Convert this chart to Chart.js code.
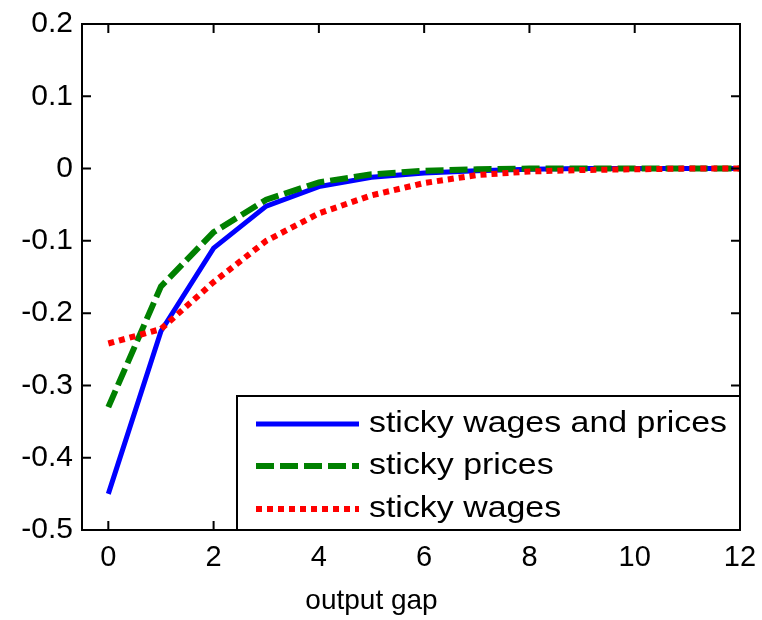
<!DOCTYPE html>
<html>
<head>
<meta charset="utf-8">
<script src="https://cdn.jsdelivr.net/npm/chart.js@4/dist/chart.umd.min.js"></script>
<style>
  html, body { margin: 0; padding: 0; background: #fff; }
  #wrap { width: 762px; height: 620px; }
</style>
</head>
<body>
<div id="wrap"><canvas id="gapChart"></canvas></div>
<script>
// Datos
const periods = [0, 1, 2, 3, 4, 5, 6, 7, 8, 9, 10, 11, 12];
const stickyBoth = [-0.450, -0.225, -0.110, -0.052, -0.025, -0.012, -0.006, -0.003, -0.001, 0, 0, 0, 0];
const stickyPrices = [-0.330, -0.163, -0.088, -0.043, -0.019, -0.008, -0.003, -0.001, 0, 0, 0, 0, 0];
const stickyWages = [-0.242, -0.222, -0.157, -0.100, -0.062, -0.037, -0.020, -0.009, -0.004, -0.002, -0.001, 0, 0];
const xTicks = [0, 2, 4, 6, 8, 10, 12];
const yTicks = [-0.5, -0.4, -0.3, -0.2, -0.1, 0, 0.1, 0.2];
const seriesNames = ['sticky wages and prices', 'sticky prices', 'sticky wages'];
const xTitle = 'output gap';

const FONT = '"Liberation Sans", Arial, sans-serif';

function pts(values) {
  return periods.map((p, i) => ({ x: p, y: values[i] }));
}

// Marco, marcas hacia adentro, leyenda y título del eje x
const matlabBox = {
  id: 'matlabBox',
  afterDraw(chart) {
    const ctx = chart.ctx;
    const a = chart.chartArea;
    const xs = chart.scales.x;
    const ys = chart.scales.y;
    const tick = 9;
    ctx.save();
    ctx.strokeStyle = '#000';
    ctx.lineWidth = 2;
    ctx.beginPath();
    xTicks.forEach(v => {
      const px = xs.getPixelForValue(v);
      ctx.moveTo(px, a.bottom); ctx.lineTo(px, a.bottom - tick);
      ctx.moveTo(px, a.top); ctx.lineTo(px, a.top + tick);
    });
    yTicks.forEach(v => {
      const py = ys.getPixelForValue(v);
      ctx.moveTo(a.left, py); ctx.lineTo(a.left + tick, py);
      ctx.moveTo(a.right, py); ctx.lineTo(a.right - tick, py);
    });
    ctx.stroke();
    ctx.strokeRect(a.left, a.top, a.right - a.left, a.bottom - a.top);

    // leyenda
    const w = 503, h = 134;
    const bx = a.right - w, by = a.bottom - h;
    ctx.fillStyle = '#fff';
    ctx.fillRect(bx, by, w, h);
    ctx.strokeRect(bx, by, w, h);
    const rows = [28, 70, 113];
    chart.data.datasets.forEach((ds, i) => {
      const yy = by + rows[i];
      ctx.save();
      ctx.strokeStyle = ds.borderColor;
      ctx.lineWidth = ds.borderWidth;
      ctx.setLineDash(ds.borderDash || []);
      ctx.beginPath();
      ctx.moveTo(bx + 19, yy);
      ctx.lineTo(bx + 122, yy);
      ctx.stroke();
      ctx.restore();
      // el texto de la figura es algo más ancho
      ctx.save();
      ctx.translate(bx + 132, yy);
      ctx.scale(1.13, 1);
      ctx.fillStyle = '#000';
      ctx.font = '30px ' + FONT;
      ctx.textBaseline = 'middle';
      ctx.textAlign = 'left';
      ctx.fillText(seriesNames[i], 0, 0);
      ctx.restore();
    });

    // título del eje x
    ctx.fillStyle = '#000';
    ctx.font = '28px ' + FONT;
    ctx.textAlign = 'center';
    ctx.textBaseline = 'middle';
    ctx.fillText(xTitle, xs.getPixelForValue(5), 601);
    ctx.restore();
  }
};

const config = {
  type: 'line',
  data: {
    datasets: [
      {
        label: seriesNames[0],
        data: pts(stickyBoth),
        borderColor: '#0000ff',
        borderWidth: 5,
        pointRadius: 0,
        fill: false,
        order: 2,
      },
      {
        label: seriesNames[1],
        data: pts(stickyPrices),
        borderColor: '#008000',
        borderWidth: 6,
        borderDash: [18, 6],
        pointRadius: 0,
        fill: false,
        order: 1,
      },
      {
        label: seriesNames[2],
        data: pts(stickyWages),
        borderColor: '#ff0000',
        borderWidth: 6,
        borderDash: [6, 5],
        pointRadius: 0,
        fill: false,
        order: 0,
      }
    ]
  },
  options: {
    responsive: true,
    maintainAspectRatio: false,
    animation: false,
    layout: { padding: { top: 24, right: 22, left: 0, bottom: 0 } },
    plugins: {
      legend: { display: false },
      tooltip: { enabled: false },
    },
    scales: {
      x: {
        type: 'linear',
        min: -0.5,
        max: 12,
        grid: { display: false, drawTicks: false },
        border: { display: false },
        afterBuildTicks: s => { s.ticks = xTicks.map(v => ({ value: v })); },
        afterFit: s => { s.height = 90; s.paddingLeft = 0; s.paddingRight = 0; },
        ticks: {
          color: '#000',
          font: { family: FONT, size: 29 },
          padding: 11,
          maxRotation: 0,
          autoSkip: false,
        }
      },
      y: {
        min: -0.5,
        max: 0.2,
        grid: { display: false, drawTicks: false },
        border: { display: false },
        afterBuildTicks: s => { s.ticks = yTicks.map(v => ({ value: v })); },
        afterFit: s => { s.width = 82; s.paddingTop = 0; s.paddingBottom = 0; },
        ticks: {
          color: '#000',
          font: { family: FONT, size: 30 },
          padding: 9,
          callback: v => String(Math.round(v * 10) / 10),
        }
      }
    }
  },
  plugins: [matlabBox]
};

new Chart(document.getElementById('gapChart'), config);
</script>
</body>
</html>
